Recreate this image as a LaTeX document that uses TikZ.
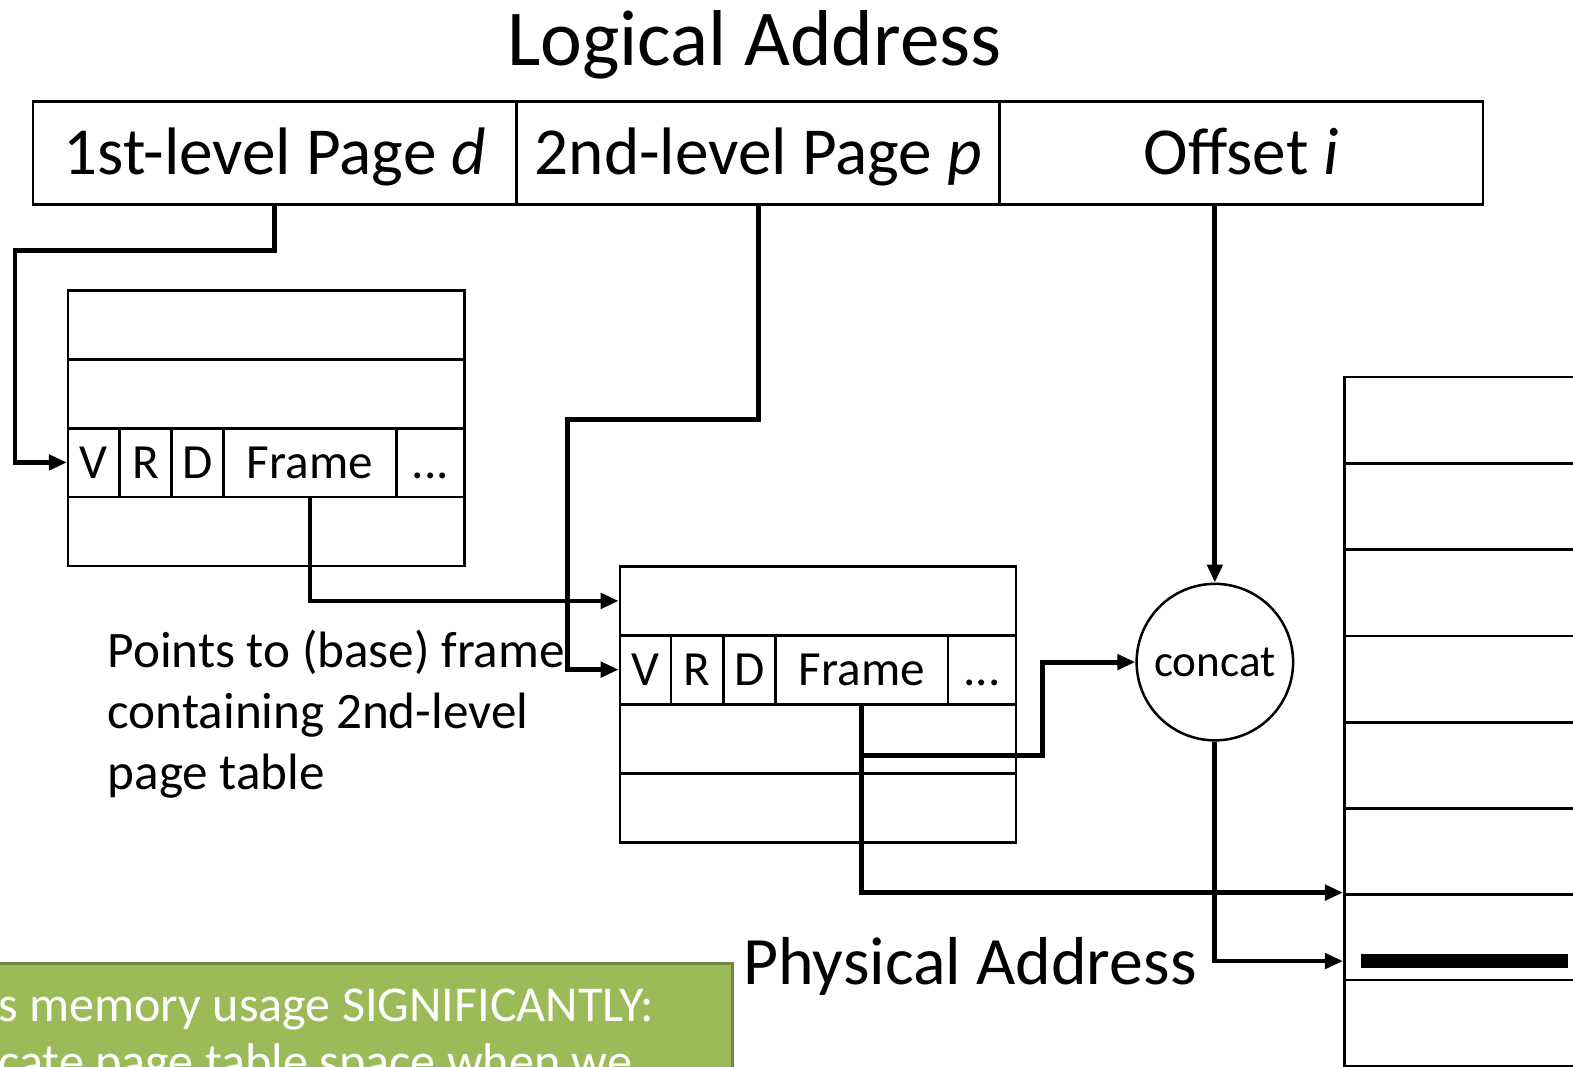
\documentclass[tikz,border=0pt]{standalone}
\usepackage{fontspec}
\setmainfont{Carlito}
\usetikzlibrary{arrows.meta}
\definecolor{grn}{HTML}{9BBB59}
\definecolor{grnd}{HTML}{71893F}
\begin{document}
\begin{tikzpicture}[x=0.5pt,y=-0.5pt,
  box/.style={draw, line width=1.25pt, inner sep=0pt},
  addr/.style={box, minimum width=241pt, minimum height=51.5pt, text height=21.6pt, text depth=0pt, font=\fontsize{33.5pt}{40pt}\selectfont},
  trow/.style={box, minimum width=197.5pt, minimum height=34.4pt},
  ecell/.style={box, minimum height=34.4pt, text height=15.8pt, text depth=0pt, font=\fontsize{24.5pt}{29pt}\selectfont},
  mrow/.style={box, minimum width=130pt, minimum height=43pt},
  conn/.style={line width=2.4pt, -{Triangle[length=9pt,width=7.5pt]}}]
\useasboundingbox (0,0) rectangle (1568,1063);

% title
\node[font=\fontsize{39.5pt}{47pt}\selectfont] (title) at (752,45) {Logical Address};

% logical address fields
\node[addr] (a1) at (274,152.5) {1st-level Page \textit{d}};
\node[addr] (a2) at (756,152.5) {2nd-level Page \textit{p}};
\node[addr] (a3) at (1237.5,152.5) {Offset \textit{i}};

% first-level page table
\node[trow] (l1) at (265.5,324) {};
\node[trow] (l2) at (265.5,392.5) {};
\node[ecell, minimum width=25.5pt] (lV) at (93.5,461) {V};
\node[ecell, minimum width=26pt] (lR) at (145,461) {R};
\node[ecell, minimum width=26pt] (lD) at (197,461) {D};
\node[ecell, minimum width=86pt] (lF) at (309,461) {Frame};
\node[ecell, minimum width=34pt] (lE) at (429,461) {...};
\node[trow] (l4) at (265.5,530) {};

% second-level page table
\node[trow] (m1) at (815.5,599) {};
\node[ecell, minimum width=25.5pt] (mV) at (643.5,667.5) {V};
\node[ecell, minimum width=26pt] (mR) at (695,667.5) {R};
\node[ecell, minimum width=26pt] (mD) at (747,667.5) {D};
\node[ecell, minimum width=86pt] (mF) at (859,667.5) {Frame};
\node[ecell, minimum width=34pt] (mE) at (979,667.5) {...};
\node[trow] (m3) at (815.5,736.5) {};
\node[trow] (m4) at (815.5,805.5) {};

% concat
\node[draw, circle, line width=1.25pt, minimum size=78pt, inner sep=0pt,
      font=\fontsize{22.5pt}{27pt}\selectfont] (cc) at (1211,660) {concat};

% physical memory
\node[mrow] (mem1) at (1470,419) {};
\node[mrow] (mem2) at (1470,505) {};
\node[mrow] (mem3) at (1470,591) {};
\node[mrow] (mem4) at (1470,677) {};
\node[mrow] (mem5) at (1470,763) {};
\node[mrow] (mem6) at (1470,848.5) {};
\node[mrow] (mem7) at (1470,934) {};
\node[mrow] (mem8) at (1470,1020) {};
\node[fill=black, inner sep=0pt, minimum width=103pt, minimum height=7pt] (bar) at (1460,958) {};

% texts
\node[anchor=west, align=left, inner sep=0pt,
      font=\fontsize{25.5pt}{30.5pt}\selectfont] (note) at (107,712)
  {Points to (base) frame\\containing 2nd-level\\page table};
\node[font=\fontsize{33.8pt}{40pt}\selectfont] (phys) at (967,963) {Physical Address};

% green box
\node[fill=grn, draw=grnd, line width=1.5pt, minimum width=375pt, minimum height=65pt, inner sep=0pt] (gbox) at (355,1025) {};
\node[anchor=west, text=white, inner sep=0pt, font=\fontsize{25pt}{30pt}\selectfont] (g1) at (-2,1006) {s memory usage SIGNIFICANTLY:};
\node[anchor=west, text=white, inner sep=0pt, font=\fontsize{25pt}{30pt}\selectfont] (g2) at (-2,1062) {cate page table space when we};

% routing points
\coordinate (k1) at (15,250);
\coordinate (k2) at (566,418);
\coordinate (k3) at (1039,753);
\coordinate (pa) at (mem7.west |- bar.center);

% connectors
\draw[conn] (a1.south) |- (k1) |- (lV.west);
\draw[conn] (a2.south) |- (k2) |- (mV.west);
\draw[conn] (lF.south) |- (m1.west);
\draw[conn] (a3.south -| cc.north) -- (cc.north);
\draw[conn] (mF.south) |- (k3) |- (cc.west);
\draw[conn] (mF.south) |- (mem7.north west);
\draw[conn] (cc.south) |- (pa);
\end{tikzpicture}
\end{document}
